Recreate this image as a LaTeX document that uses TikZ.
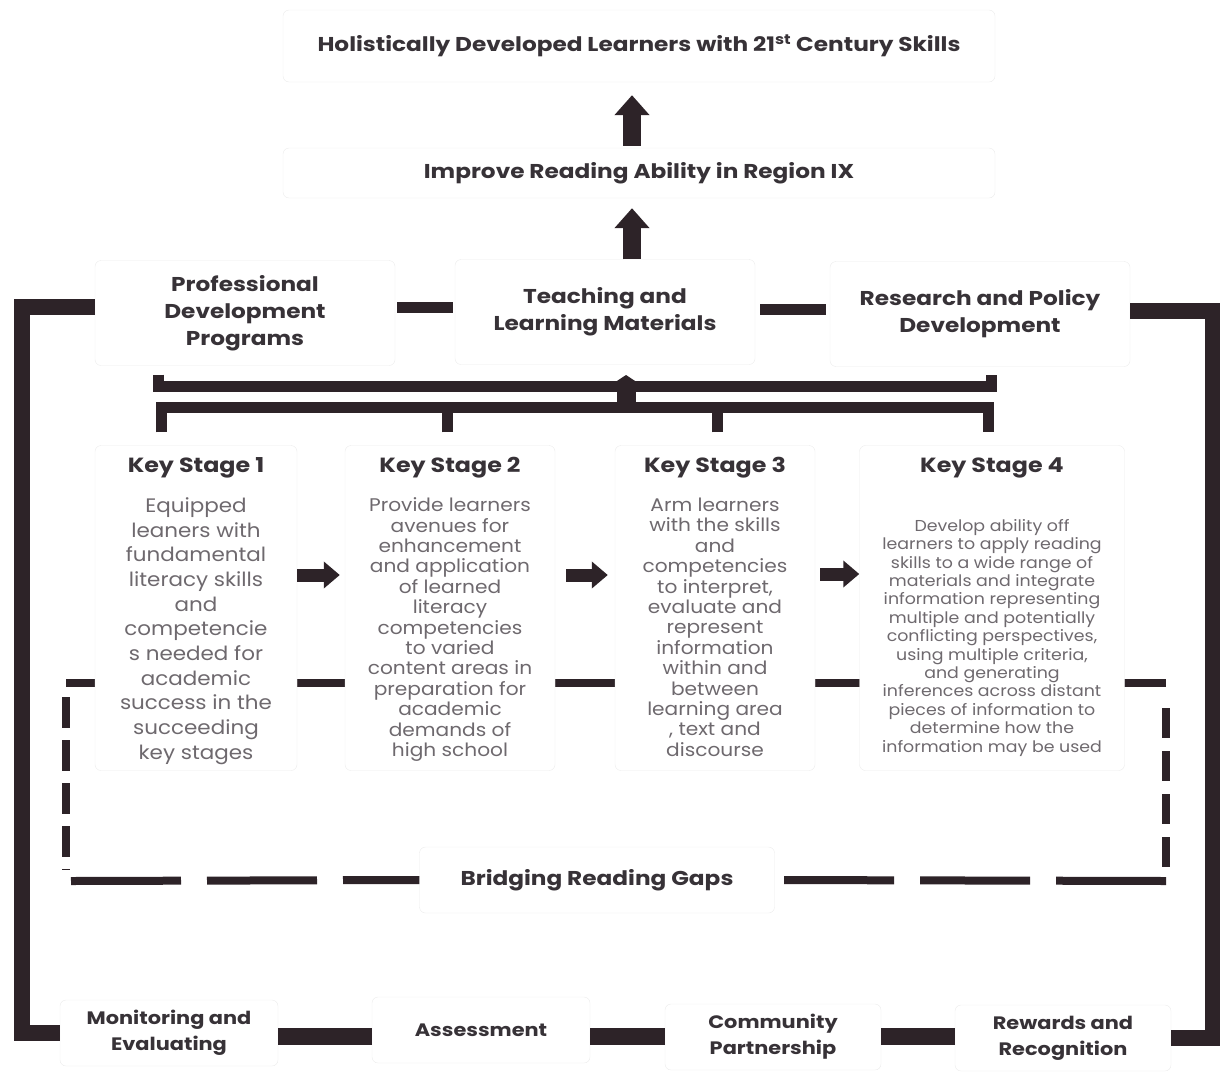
\documentclass[tikz,border=0pt]{standalone}
\usepackage{fontspec}
\setmainfont{Poppins}[FakeStretch=1.1]
\newfontfamily\headfont{Poppins}[FakeStretch=1.16]
\usetikzlibrary{arrows.meta,positioning}
\definecolor{barcol}{RGB}{45,35,40}
\definecolor{headcol}{RGB}{55,50,55}
\definecolor{bodycol}{RGB}{110,105,110}
\definecolor{edgecol}{RGB}{236,236,236}

\begin{document}
\begin{tikzpicture}[x=1pt, y=-1pt,
  goal/.style={rectangle, draw=edgecol, rounded corners=6pt, fill=white, text=headcol, align=center,
    font=\headfont\bfseries\fontsize{20}{24}\selectfont},
  pillar/.style={goal, minimum width=300, minimum height=105, font=\headfont\bfseries\fontsize{20}{27}\selectfont},
  support/.style={goal, minimum height=66, font=\headfont\bfseries\fontsize{18}{26}\selectfont},
  stagebox/.style={rectangle, draw=edgecol, rounded corners=6pt, fill=white, minimum height=325},
  stagehead/.style={inner sep=0pt, text=headcol, font=\headfont\bfseries\fontsize{20.5}{24}\selectfont},
  stagetext/.style={inner sep=0pt, text=bodycol, align=center},
  bar/.style={draw=barcol, line width=11pt},
  frame/.style={draw=barcol, line width=16pt},
  gapline/.style={draw=barcol, line width=8pt},
  uparrow/.style={draw=barcol, line width=18pt, -{Triangle[width=34pt,length=20pt]}},
  hubarrow/.style={draw=barcol, line width=19pt, -{Triangle[width=24pt,length=8pt]}},
  rightarrow/.style={draw=barcol, line width=13pt, -{Triangle[width=26pt,length=16pt]}}
]
\useasboundingbox (0,0) rectangle (1220,1071);

% goals
\node[goal, minimum width=712, minimum height=72] (learners) at (639,46)
  {Holistically Developed Learners with 21\textsuperscript{st} Century Skills};
\node[goal, minimum width=712, minimum height=50] (reading) at (639,173)
  {Improve Reading Ability in Region IX};

% pillars
\node[pillar] (pdp) at (245,313) {Professional\\Development\\Programs};
\node[pillar] (tlm) at (605,312) {Teaching and\\Learning Materials};
\node[pillar] (rpd) at (980,314) {Research and Policy\\Development};

% bridging frame, behind the key stages
\draw[gapline] (66,683) -- (1166,683);
\draw[gapline, dash pattern=on 31pt off 12pt] (66,697) -- (66,870);
\draw[gapline, dash pattern=on 30pt off 13pt] (1166,708) -- (1166,875);

% key stages
\node[stagebox, minimum width=202] (ks1) at (196,608) {};
\node[stagebox, minimum width=210] (ks2) at (450,608) {};
\node[stagebox, minimum width=200] (ks3) at (715,608) {};
\node[stagebox, minimum width=265] (ks4) at (992,608) {};

\node[stagehead, below=12pt of ks1.north] (ks1h) {Key Stage 1};
\node[stagehead, below=12pt of ks2.north] (ks2h) {Key Stage 2};
\node[stagehead, below=12pt of ks3.north] (ks3h) {Key Stage 3};
\node[stagehead, below=12pt of ks4.north] (ks4h) {Key Stage 4};

\node[stagetext, font=\fontsize{19.5}{24.7}\selectfont, below=19pt of ks1h] (ks1b)
  {Equipped\\leaners with\\fundamental\\literacy skills\\and\\competencie\\s needed for\\academic\\success in the\\succeeding\\key stages};
\node[stagetext, font=\fontsize{18.3}{20.4}\selectfont, below=19pt of ks2h] (ks2b)
  {Provide learners\\avenues for\\enhancement\\and application\\of learned\\literacy\\competencies\\to varied\\content areas in\\preparation for\\academic\\demands of\\high school};
\node[stagetext, font=\fontsize{18.3}{20.4}\selectfont, below=19pt of ks3h] (ks3b)
  {Arm learners\\with the skills\\and\\competencies\\to interpret,\\evaluate and\\represent\\information\\within and\\between\\learning area\\, text and\\discourse};
\node[stagetext, font=\fontsize{15.8}{18.4}\selectfont, below=41pt of ks4h] (ks4b)
  {Develop ability off\\learners to apply reading\\skills to a wide range of\\materials and integrate\\information representing\\multiple and potentially\\conflicting perspectives,\\using multiple criteria,\\and generating\\inferences across distant\\pieces of information to\\determine how the\\information may be used};

\node[goal, minimum width=355, minimum height=66] (bridge) at (597,880) {Bridging Reading Gaps};
\draw[gapline, dash pattern=on 110pt off 26pt] (71,881) -- (bridge.west);
\draw[gapline, dash pattern=on 110pt off 26pt] (1166,881) -- (bridge.east);

% supports
\node[support, minimum width=218] (monitor) at (169,1033) {Monitoring and\\Evaluating};
\node[support, minimum width=218] (assess) at (481,1030) {Assessment};
\node[support, minimum width=216] (partner) at (773,1037) {Community\\Partnership};
\node[support, minimum width=216] (reward) at (1063,1038) {Rewards and\\Recognition};

% arrows up
\draw[uparrow, shorten <=2pt, shorten >=13pt] ([xshift=-7pt]reading.north) -- ([xshift=-7pt]learners.south);
\draw[uparrow, shorten >=10pt] ([xshift=27pt]tlm.north) -- ([xshift=-7pt]reading.south);

% links between pillars
\coordinate (rowline) at (0,307);
\coordinate (rowline2) at (0,309);
\draw[bar, shorten <=2pt, shorten >=2pt] (pdp.east |- rowline) -- (tlm.west |- rowline);
\draw[bar, shorten <=5pt, shorten >=4pt] (tlm.east |- rowline2) -- (rpd.west |- rowline2);

% outer frame
\draw[frame] ([yshift=6pt]pdp.west) -- ++(-73,0) |- (monitor.west);
\draw[frame] ([yshift=3pt]rpd.east) -- ++(83,0) |- (reward.east);

% links between supports
\coordinate (baseline) at (0,1036);
\draw[bar, line width=17pt] (monitor.east |- baseline) -- (assess.west |- baseline);
\draw[bar, line width=17pt] (assess.east |- baseline) -- (partner.west |- baseline);
\draw[bar, line width=17pt] (partner.east |- baseline) -- (reward.west |- baseline);

% brackets between pillars and key stages
\coordinate (upbar) at (626,386);
\coordinate (lowbar) at (626,407);
\draw[bar, shorten <=9pt, shorten >=8pt] ([xshift=-87pt]pdp.south) |- (upbar) -| ([xshift=11pt]rpd.south);
\coordinate (t1) at ([xshift=-35pt, yshift=13pt]ks1.north);
\coordinate (t2) at ([xshift=-3pt, yshift=13pt]ks2.north);
\coordinate (t3) at ([xshift=2pt, yshift=13pt]ks3.north);
\coordinate (t4) at ([xshift=-4pt, yshift=13pt]ks4.north);
\draw[bar] (t1) -- (t1 |- lowbar) -- (t4 |- lowbar) -- (t4);
\foreach \t in {t2,t3}
  \draw[bar] (\t) -- (\t |- lowbar);
\draw[hubarrow] ([yshift=-5pt]lowbar) -- ([yshift=11pt]upbar);

% key stage flow
\draw[rightarrow, shorten >=5pt] ([yshift=33pt]ks1.east) -- ([yshift=33pt]ks2.west);
\draw[rightarrow, shorten <=11pt, shorten >=7pt] ([yshift=33pt]ks2.east) -- ([yshift=33pt]ks3.west);
\draw[rightarrow, shorten <=5pt] ([yshift=34pt]ks3.east) -- ([yshift=34pt]ks4.west);
\end{tikzpicture}
\end{document}
